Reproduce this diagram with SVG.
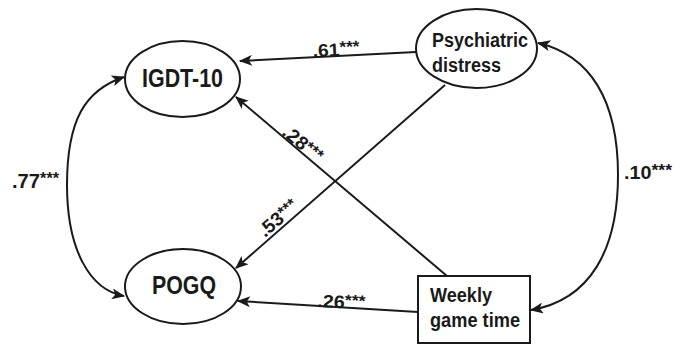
<svg xmlns="http://www.w3.org/2000/svg" width="685" height="346" viewBox="0 0 685 346">
  <style>
    .node { fill: #fff; stroke: #1a1a1a; stroke-width: 2; }
    .lbl { font-family: "Liberation Sans", Arial, sans-serif; font-weight: bold; fill: #1a1a1a; }
    .edge { fill: none; stroke: #1a1a1a; stroke-width: 2; }
    .coef { font-family: "Liberation Sans", Arial, sans-serif; font-weight: bold; fill: #1a1a1a; font-size: 18px; }
    .star { font-size: 16px; }
  </style>
  <defs>
    <marker id="arr" viewBox="0 0 12 10" refX="11" refY="5" markerWidth="14" markerHeight="11" markerUnits="userSpaceOnUse" orient="auto-start-reverse">
      <path d="M0,0 L12,5 L0,10 L3,5 z" fill="#1a1a1a"/>
    </marker>
  </defs>

  <g id="connectors">
    <line class="edge" x1="416" y1="52" x2="240" y2="61" marker-end="url(#arr)"/>
    <line class="edge" x1="445" y1="85" x2="236" y2="268" marker-end="url(#arr)"/>
    <line class="edge" x1="447" y1="276" x2="236" y2="97" marker-end="url(#arr)"/>
    <line class="edge" x1="418" y1="312" x2="238" y2="301" marker-end="url(#arr)"/>
    <path class="edge" d="M124,77 C85,90 67,120 67,185 C67,250 90,290 124,296" marker-start="url(#arr)" marker-end="url(#arr)"/>
    <path class="edge" d="M538,43 C590,55 618,100 618,175 C618,250 590,300 531,310" marker-start="url(#arr)" marker-end="url(#arr)"/>
    <text class="coef" x="313" y="57" transform="rotate(-3 313 57)" textLength="47" lengthAdjust="spacingAndGlyphs">.61<tspan class="star" dy="-3">***</tspan></text>
    <text class="coef" x="281" y="134" transform="rotate(40 281 134)" textLength="46" lengthAdjust="spacingAndGlyphs" style="font-size:19px">.28<tspan class="star" dy="-3">***</tspan></text>
    <text class="coef" x="265" y="238" transform="rotate(-41 265 238)" textLength="46" lengthAdjust="spacingAndGlyphs" style="font-size:19px">.53<tspan class="star" dy="-3">***</tspan></text>
    <text class="coef" x="317" y="307" transform="rotate(3 317 307)" textLength="48" lengthAdjust="spacingAndGlyphs">.26<tspan class="star" dy="-3">***</tspan></text>
    <text class="coef" x="12" y="188" style="font-size:20px" textLength="47" lengthAdjust="spacingAndGlyphs">.77<tspan class="star" dy="-4">***</tspan></text>
    <text class="coef" x="624" y="179" textLength="48" lengthAdjust="spacingAndGlyphs">.10<tspan class="star" dy="-3">***</tspan></text>
  </g>

  <g id="igdt">
    <ellipse class="node" cx="182.5" cy="79" rx="57.5" ry="38"/>
    <text class="lbl" x="142" y="87" font-size="26" textLength="81" lengthAdjust="spacingAndGlyphs">IGDT-10</text>
  </g>
  <g id="pogq">
    <ellipse class="node" cx="183" cy="286.5" rx="58" ry="37.5"/>
    <text class="lbl" x="152" y="294" font-size="25" textLength="64" lengthAdjust="spacingAndGlyphs">POGQ</text>
  </g>
  <g id="distress">
    <ellipse class="node" cx="476.5" cy="48.5" rx="60.5" ry="39.5"/>
    <text class="lbl" x="432" y="47" font-size="20" textLength="96" lengthAdjust="spacingAndGlyphs">Psychiatric</text>
    <text class="lbl" x="432" y="72" font-size="20" textLength="69" lengthAdjust="spacingAndGlyphs">distress</text>
  </g>
  <g id="gametime">
    <rect class="node" x="418" y="276" width="112" height="67"/>
    <text class="lbl" x="430" y="302" font-size="21" textLength="62" lengthAdjust="spacingAndGlyphs">Weekly</text>
    <text class="lbl" x="430" y="327" font-size="21" textLength="90" lengthAdjust="spacingAndGlyphs">game time</text>
  </g>
</svg>
